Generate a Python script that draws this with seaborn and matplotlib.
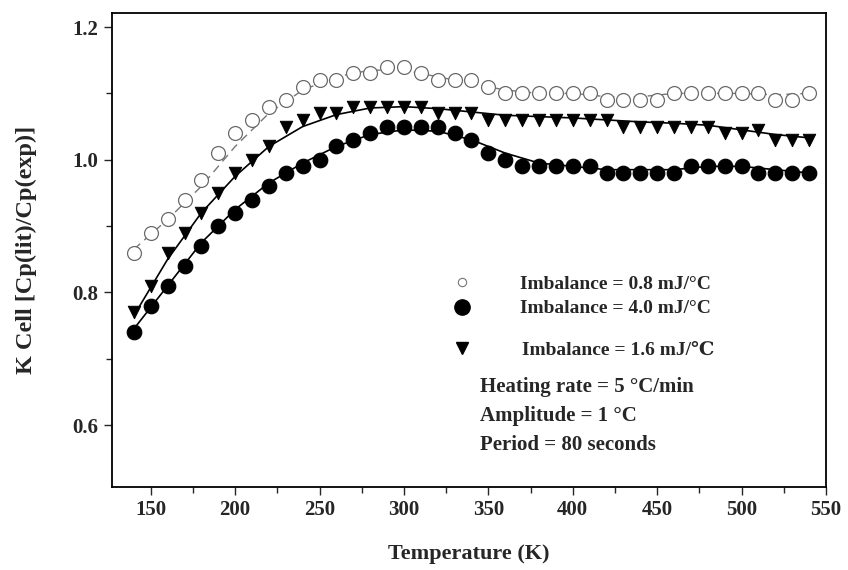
import numpy as np
import pandas as pd
import seaborn as sns
import matplotlib.pyplot as plt
from matplotlib.lines import Line2D

temps = list(range(140, 550, 10))

imb_08 = [0.86, 0.89, 0.91, 0.94, 0.97, 1.01, 1.04, 1.06, 1.08, 1.09,
          1.11, 1.12, 1.12, 1.13, 1.13, 1.14, 1.14, 1.13, 1.12, 1.12,
          1.12, 1.11, 1.10, 1.10, 1.10, 1.10, 1.10, 1.10, 1.09, 1.09,
          1.09, 1.09, 1.10, 1.10, 1.10, 1.10, 1.10, 1.10, 1.09, 1.09, 1.10]
imb_40 = [0.74, 0.78, 0.81, 0.84, 0.87, 0.90, 0.92, 0.94, 0.96, 0.98,
          0.99, 1.00, 1.02, 1.03, 1.04, 1.05, 1.05, 1.05, 1.05, 1.04,
          1.03, 1.01, 1.00, 0.99, 0.99, 0.99, 0.99, 0.99, 0.98, 0.98,
          0.98, 0.98, 0.98, 0.99, 0.99, 0.99, 0.99, 0.98, 0.98, 0.98, 0.98]
imb_16 = [0.77, 0.81, 0.86, 0.89, 0.92, 0.95, 0.98, 1.00, 1.02, 1.05,
          1.06, 1.07, 1.07, 1.08, 1.08, 1.08, 1.08, 1.08, 1.07, 1.07,
          1.07, 1.06, 1.06, 1.06, 1.06, 1.06, 1.06, 1.06, 1.06, 1.05,
          1.05, 1.05, 1.05, 1.05, 1.05, 1.04, 1.04, 1.045, 1.03, 1.03, 1.03]

# fitted curves
fit_temps = list(range(140, 550, 20))
fit_08 = [0.865, 0.91, 0.96, 1.02, 1.07, 1.105, 1.125, 1.135, 1.135, 1.125, 1.115,
          1.105, 1.10, 1.10, 1.095, 1.095, 1.10, 1.10, 1.10, 1.098, 1.10]
fit_40 = [0.745, 0.81, 0.875, 0.925, 0.965, 0.995, 1.02, 1.038, 1.045, 1.043, 1.03,
          1.01, 0.995, 0.99, 0.985, 0.985, 0.985, 0.99, 0.99, 0.985, 0.98]
fit_16 = [0.765, 0.85, 0.92, 0.975, 1.02, 1.05, 1.068, 1.078, 1.08, 1.077, 1.072,
          1.067, 1.065, 1.063, 1.06, 1.057, 1.055, 1.052, 1.045, 1.038, 1.033]

labels = ["Imbalance = 0.8 mJ/°C", "Imbalance = 4.0 mJ/°C", "Imbalance = 1.6 mJ/\u2103"]
notes = ["Heating rate = 5 °C/min", "Amplitude = 1 °C", "Period = 80 seconds"]

sns.set_theme(style="ticks")
plt.rcParams['font.family'] = ['Liberation Serif', 'DejaVu Serif']
plt.rcParams['font.weight'] = 'bold'

fig = plt.figure(figsize=(8.48, 5.70), dpi=100)
ax = fig.add_axes([0.132, 0.146, 0.842, 0.831])

pts = pd.DataFrame({"T": temps * 3,
                    "K": imb_08 + imb_40 + imb_16,
                    "set": ["a"] * 41 + ["b"] * 41 + ["c"] * 41})
fits = pd.DataFrame({"T": fit_temps * 3,
                     "K": fit_08 + fit_40 + fit_16,
                     "set": ["a"] * 21 + ["b"] * 21 + ["c"] * 21})

sns.lineplot(data=fits[fits.set == "a"], x="T", y="K", ax=ax, color="#777777",
             linewidth=1.0, linestyle=(0, (6, 4)), estimator=None)
sns.lineplot(data=fits[fits.set != "a"], x="T", y="K", units="set", ax=ax,
             color="black", linewidth=1.2, estimator=None)

sns.scatterplot(data=pts[pts.set == "a"], x="T", y="K", ax=ax, marker="o", s=100,
                facecolor="white", edgecolor="#6a6a6a", linewidth=0.9, zorder=3)
sns.scatterplot(data=pts[pts.set == "b"], x="T", y="K", ax=ax, marker="o", s=110,
                color="black", edgecolor="black", zorder=3)
sns.scatterplot(data=pts[pts.set == "c"], x="T", y="K", ax=ax, marker="v", s=80,
                color="black", edgecolor="black", zorder=3)

ax.set_xlim(127, 550)
ax.set_ylim(0.507, 1.221)
ax.set_xticks(range(150, 551, 50))
ax.set_xticks(range(175, 550, 50), minor=True)
ax.set_yticks([0.6, 0.8, 1.0, 1.2])
ax.set_yticks([0.7, 0.9, 1.1], minor=True)
ax.tick_params(axis="both", which="major", length=6, width=1, labelsize=15, direction="out")
ax.tick_params(axis="both", which="minor", length=4, width=1, direction="out")
for lab in ax.get_xticklabels() + ax.get_yticklabels():
    lab.set_fontweight("bold")
for sp in ax.spines.values():
    sp.set_linewidth(1.3)
    sp.set_color("black")

ax.set_xlabel("Temperature (K)", fontsize=16, fontweight="bold", labelpad=17)
ax.set_ylabel("K Cell [Cp(lit)/Cp(exp)]", fontsize=17.5, fontweight="bold", labelpad=26)

handles = [
    Line2D([], [], linestyle="none", marker="o", markersize=6, markerfacecolor="white",
           markeredgecolor="#777777", markeredgewidth=0.8),
    Line2D([], [], linestyle="none", marker="o", markersize=11, color="black"),
    Line2D([], [], linestyle="none", marker="v", markersize=8, color="black"),
]
leg1 = ax.legend(handles[:2], labels[:2], loc="center left", bbox_to_anchor=(0.438, 0.402),
                 frameon=False, handletextpad=2.0, labelspacing=0.35,
                 prop={"weight": "bold", "size": 14})
ax.add_artist(leg1)
ax.legend(handles[2:], labels[2:], loc="center left", bbox_to_anchor=(0.438, 0.289),
          frameon=False, handletextpad=2.1, prop={"weight": "bold", "size": 14})

for ypos, txt in zip([0.211, 0.150, 0.089], notes):
    ax.text(0.515, ypos, txt, transform=ax.transAxes,
            fontsize=15, fontweight="bold", va="center")

fig.savefig("out.png", dpi=100)
